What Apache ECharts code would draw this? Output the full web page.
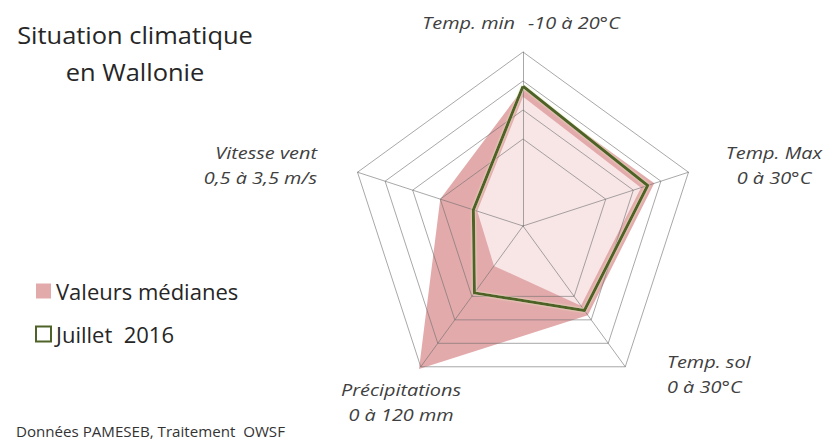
<!DOCTYPE html>
<html>
<head>
<meta charset="utf-8">
<script src="https://cdn.jsdelivr.net/npm/echarts@6/dist/echarts.min.js"></script>
<style>
  html, body { margin: 0; padding: 0; background: #fff; }
  #radarClimat { width: 824px; height: 441px; }
</style>
</head>
<body>
<div id="radarClimat"></div>
<script>
// axes du radar (ordre ECharts : depuis le haut, sens anti-horaire)
var indicateurs = ['Temp. min', 'Vitesse vent', 'Précipitations', 'Temp. sol', 'Temp. Max'];
var axeMin = [-10, 0.5, 0, 0, 0];
var axeMax = [20, 3.5, 120, 30, 30];

// valeurs
var medianes = [13.7, 2.0, 122, 19.0, 23.8];
var interieur = [12.3, 1.33, 34, 17.0, 21.4];
var juillet2016 = [14.1, 1.4, 57, 18.0, 22.6];

var libelles = {
    tmin: ['Temp. min', '-10 à 20°C'],
    vent: 'Vitesse vent\n0,5 à 3,5 m/s',
    precip: 'Précipitations\n0 à 120 mm',
    sol: 'Temp. sol\n0 à 30°C',
    tmax: 'Temp. Max\n0 à 30°C'
};

var chart = echarts.init(document.getElementById('radarClimat'), null, {renderer: 'svg'});

var indicator = indicateurs.map(function (nom, i) {
    return {name: nom, min: axeMin[i], max: axeMax[i]};
});

var grisLigne = 'rgba(110,110,110,0.6)';
var policeAxe = 'italic 17px "Open Sans"';

// texte étiré horizontalement (la police d'origine est plus large)
function texte(x, y, txt, font, align, color, etirement, interligne) {
    return {
        type: 'text',
        x: x,
        y: y,
        scaleX: etirement || 1.17,
        style: {
            text: txt,
            font: font,
            fill: color || '#404040',
            align: align,
            verticalAlign: 'middle',
            lineHeight: interligne || 25
        }
    };
}

var option = {
    animation: false,
    backgroundColor: '#fff',
    radar: {
        z: 3,
        center: [523, 226],
        radius: 174,
        startAngle: 90,
        splitNumber: 6,
        shape: 'polygon',
        indicator: indicator,
        axisName: {show: false},
        axisLine: {lineStyle: {color: grisLigne, width: 1}},
        axisTick: {show: false},
        axisLabel: {show: false},
        splitArea: {show: false},
        splitLine: {
            lineStyle: {
                color: ['transparent', 'transparent', 'transparent', grisLigne, grisLigne, grisLigne, grisLigne],
                width: 1
            }
        }
    },
    legend: {
        orient: 'vertical',
        left: 30,
        top: 275,
        itemWidth: 15,
        itemHeight: 15,
        itemGap: 21,
        icon: 'rect',
        textStyle: {fontFamily: 'Open Sans', fontSize: 22, color: '#262626', lineHeight: 22},
        data: [
            {name: 'Valeurs médianes', itemStyle: {color: '#e3aaab', borderWidth: 0}},
            {name: 'Juillet  2016', itemStyle: {color: '#ffffff', borderColor: '#4f6228', borderWidth: 2}}
        ]
    },
    graphic: [
        {
            type: 'text',
            x: 135,
            y: 53,
            scaleX: 1.06,
            style: {
                text: 'Situation climatique\nen Wallonie',
                font: '24px "Open Sans"',
                fill: '#262626',
                align: 'center',
                verticalAlign: 'middle',
                lineHeight: 37
            }
        },
        texte(515, 22, libelles.tmin[0], policeAxe, 'right'),
        texte(528, 22, libelles.tmin[1], policeAxe, 'left'),
        texte(317, 165, libelles.vent, policeAxe, 'right'),
        texte(401, 402, libelles.precip, policeAxe, 'center'),
        texte(667, 374, libelles.sol, policeAxe, 'left'),
        texte(774, 165, libelles.tmax, policeAxe, 'center'),
        texte(16, 431, 'Données PAMESEB, Traitement  OWSF', '14px "Open Sans"', 'left', '#333', 1.08, 16)
    ],
    series: [
        {
            name: 'Valeurs médianes',
            type: 'radar',
            z: 1,
            symbol: 'none',
            lineStyle: {width: 0},
            itemStyle: {color: '#e3aaab'},
            areaStyle: {color: '#e3aaab', opacity: 1},
            data: [{value: medianes, name: 'Valeurs médianes'}]
        },
        {
            name: 'intérieur',
            type: 'radar',
            z: 2,
            symbol: 'none',
            lineStyle: {width: 0},
            itemStyle: {color: '#f8e6e7'},
            areaStyle: {color: '#f8e6e7', opacity: 1},
            data: [{value: interieur, name: 'intérieur'}]
        },
        {
            name: 'Juillet  2016',
            type: 'radar',
            z: 4,
            symbol: 'none',
            itemStyle: {color: '#4f6228'},
            lineStyle: {
                color: '#4f6228',
                width: 3,
                shadowColor: 'rgba(230,238,190,1)',
                shadowBlur: 2
            },
            data: [{value: juillet2016, name: 'Juillet  2016'}]
        }
    ]
};

chart.setOption(option);
</script>
</body>
</html>
